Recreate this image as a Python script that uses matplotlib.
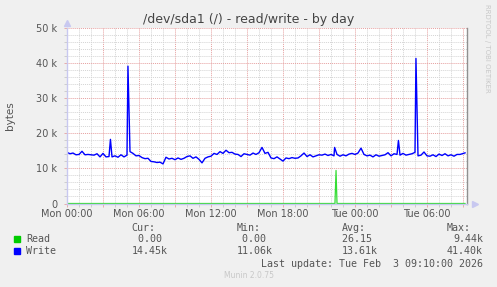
import numpy as np
import matplotlib
matplotlib.use('Agg')
import matplotlib.pyplot as plt
from matplotlib.ticker import MultipleLocator, FuncFormatter

# ---- data (hours since Mon 00:00) ----
write_k = [
    14.6, 14.2, 14.4, 13.9, 14.0, 14.9, 13.9, 14.0, 13.9, 13.8, 14.2, 13.3,
    14.3, 13.3, 13.4, 13.3, 13.6, 13.2, 13.9, 13.3, 13.8, 14.8, 14.3, 13.6,
    13.7, 13.1, 12.8, 12.9, 12.0, 11.9, 11.7, 11.8, 11.3, 13.2, 12.7, 12.9,
    12.5, 13.0, 12.6, 12.9, 13.4, 13.6, 12.9, 13.3, 12.6, 11.6, 12.9, 13.3,
    13.5, 14.3, 14.0, 14.8, 14.3, 15.2, 14.5, 14.6, 14.1, 14.0, 13.4, 14.2,
    14.0, 13.8, 14.4, 14.0, 14.5, 16.0, 14.3, 14.6, 13.0, 12.8, 13.3, 12.7,
    12.1, 13.0, 12.8, 13.1, 12.9, 13.0, 13.6, 14.4, 13.4, 13.9, 13.3, 13.6,
    13.9, 13.8, 14.1, 13.7, 14.0, 13.6, 14.0, 13.5, 13.9, 13.6, 14.1, 14.3,
    14.0, 14.4, 15.8, 14.0, 13.6, 13.8, 13.3, 13.9, 13.5, 13.7, 13.9, 14.5,
    13.6, 14.2, 14.0, 13.8, 14.3, 13.8, 14.0, 14.2, 14.6, 13.6, 13.8, 14.7,
    13.6, 13.5, 13.9, 13.4, 14.1, 13.7, 14.2, 13.6, 13.9, 13.5, 14.0, 14.0,
]
write_hours = list(np.arange(len(write_k)) * 0.25)
# short spikes between regular samples
spike_hours = [3.62, 5.08, 22.3, 27.62, 29.08, 33.17]
spike_k = [18.3, 39.2, 16.0, 18.0, 41.4, 14.45]

read_hours = [0.0, 22.33, 22.42, 22.5, 33.17]
read_k = [0.0, 0.0, 9.44, 0.0, 0.0]

x_tick_hours = [0, 6, 12, 18, 24, 30]
x_tick_labels = ['Mon 00:00', 'Mon 06:00', 'Mon 12:00', 'Mon 18:00',
                 'Tue 00:00', 'Tue 06:00']
y_ticks = [0, 10000, 20000, 30000, 40000, 50000]
y_tick_labels = ['0', '10 k', '20 k', '30 k', '40 k', '50 k']

legend_cols = ['Cur:', 'Min:', 'Avg:', 'Max:']
read_stats = ['0.00 ', '0.00 ', '26.15 ', '9.44k']
write_stats = ['14.45k', '11.06k', '13.61k', '41.40k']

# ---- merge write samples ----
t = np.array(write_hours + spike_hours)
v = np.array(write_k + spike_k) * 1000
order = np.argsort(t)
t, v = t[order], v[order]

W, H = 497, 287
BG = '#f0f0f0'
TXT = '#555555'
fig = plt.figure(figsize=(W / 100, H / 100), dpi=100, facecolor=BG)
ax = fig.add_axes([67 / W, (H - 203.5) / H, 400 / W, (203.5 - 28.3) / H])
ax.set_facecolor('white')

ax.set_xlim(0, 400 / 12)
ax.set_ylim(0, 50000)

# grid
ax.xaxis.set_major_locator(MultipleLocator(3))
ax.xaxis.set_minor_locator(MultipleLocator(1))
ax.yaxis.set_minor_locator(MultipleLocator(2000))
ax.set_yticks(y_ticks)
ax.set_yticklabels(y_tick_labels)
lab = dict(zip(x_tick_hours, x_tick_labels))
ax.xaxis.set_major_formatter(FuncFormatter(lambda x, p: lab.get(int(round(x)), '')))

ax.grid(which='minor', color='#d4d4d4', lw=0.7, ls=(0, (1, 1)))
ax.grid(which='major', color='#e6a0a0', lw=0.7, ls=(0, (1, 1)))
ax.set_axisbelow(True)
ax.tick_params(which='both', direction='out', length=2, width=0.6,
               labelsize=7, labelcolor=TXT, pad=2)
ax.tick_params(axis='y', which='both', pad=5)
ax.tick_params(which='major', color='#e6a0a0')
ax.tick_params(which='minor', color='#c8c8c8')

ax.spines['top'].set_visible(False)
ax.spines['left'].set_color('#c8c8f0')
ax.spines['bottom'].set_color('#c8c8f0')
ax.spines['right'].set_color('#909090')
for s in ax.spines.values():
    s.set_linewidth(1.0)
    s.set_zorder(3)

# axis arrows
ax.plot([0], [51600], marker='^', ms=4, color='#c8c8f0', clip_on=False)
ax.plot([34.0], [0], marker='>', ms=4, color='#c8c8f0', clip_on=False)

# series
ax.plot(read_hours, np.array(read_k) * 1000, color='#33dd33', lw=0.9,
        zorder=1.5)
ax.plot(t, v, color='#0000ff', lw=1)

ax.set_ylabel('bytes', fontsize=7.5, color=TXT, labelpad=15)

fig.text(0.5, 1 - 19 / H, '/dev/sda1 (/) - read/write - by day',
         ha='center', va='center', fontsize=9, color='#444444')
fig.text(487 / W, 1 - 4 / H, 'RRDTOOL / TOBI OETIKER', rotation=270,
         ha='center', va='top', fontsize=5, color='#c8c8c8')

# legend block
mono = 'DejaVu Sans Mono'
fs = 7.2
def px(x, y, s, **kw):
    fig.text(x / W, 1 - y / H, s, family=mono, fontsize=fs, color=TXT,
             va='center', **kw)

col_x = [131.7, 236.7, 341.7, 446.7]
col_r = [167.5, 272.5, 377.5, 483.0]
for cx, name in zip(col_x, legend_cols):
    px(cx, 228.3, name)
row_y = [239.3, 251.0]
for ry, name, stats, col in zip(row_y, ['Read', 'Write'],
                                [read_stats, write_stats],
                                ['#00cc00', '#0000ff']):
    fig.patches.append(plt.Rectangle((14 / W, 1 - (ry + 3) / H), 6 / W, 6 / H,
                                     transform=fig.transFigure, color=col))
    px(26, ry, name)
    for cr, sv in zip(col_r, stats):
        px(cr, ry, sv, ha='right')
px(483, 263.7, 'Last update: Tue Feb  3 09:10:00 2026', ha='right')
fig.text(0.5, 1 - 276 / H, 'Munin 2.0.75', ha='center', va='center',
         fontsize=5.5, color='#c8c8c8')

fig.savefig('out.png', dpi=100, facecolor=BG)
